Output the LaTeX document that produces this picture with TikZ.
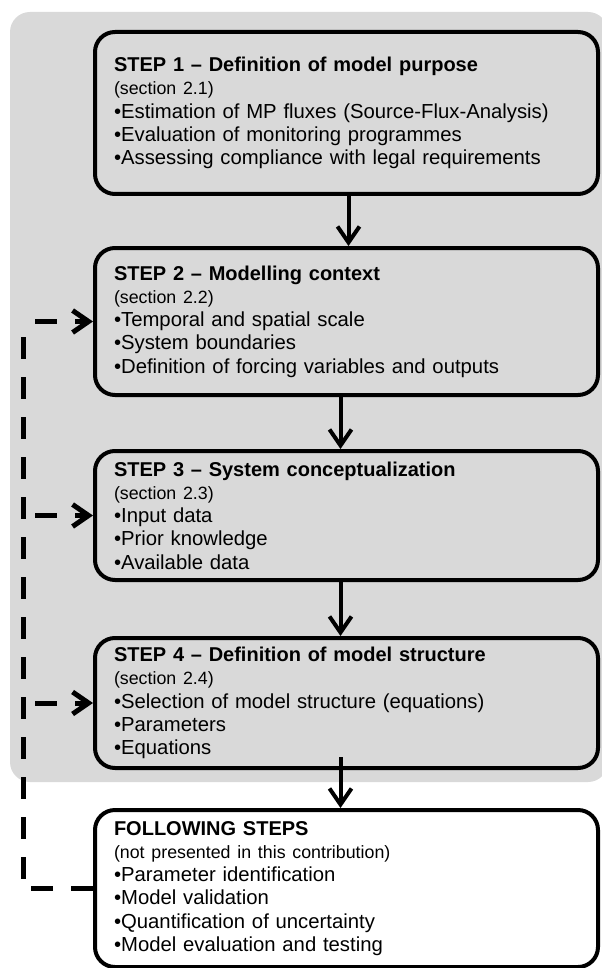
\documentclass[tikz,border=0pt]{standalone}
\usepackage{fontspec}
\setmainfont{Liberation Sans}
\usetikzlibrary{arrows.meta}

\definecolor{panelgray}{gray}{0.85}
\newcommand{\stepsec}[1]{{\fontsize{8.9}{11.6}\selectfont #1}}
\newcommand{\steptitle}[1]{{\fontsize{10}{11.6}\selectfont\bfseries #1}}

\begin{document}
\begin{tikzpicture}[x=0.5pt, y=-0.5pt,
    stepbox/.style={draw, line width=2pt, rounded corners=10pt, fill=panelgray,
        minimum width=251.5pt, text width=232.5pt, inner xsep=9.5pt, inner ysep=0pt,
        align=left, font=\fontsize{10.15}{11.6}\selectfont},
    flow/.style={line width=2pt, -{Straight Barb[length=8pt, width=11pt]}},
    feedback/.style={line width=2.5pt, dash pattern=on 11pt off 9pt},
    fbarrow/.style={feedback, -{Straight Barb[length=8pt, width=11pt]}}]

    % Canvas in pixel units (y runs downwards)
    \useasboundingbox (0,0) rectangle (601,968);

    % --- 1. Shaded panel behind steps 1-4 ---
    \fill[panelgray, rounded corners=10pt] (10,12) rectangle (608,782);

    % --- 2. The step boxes ---
    \node[stepbox, minimum height=81pt] (s1) at (346.5,113) {%
        \steptitle{STEP 1 – Definition of model purpose}\\
        \stepsec{(section 2.1)}\\
        •Estimation of MP fluxes (Source-Flux-Analysis)\\
        •Evaluation of monitoring programmes\\
        •Assessing compliance with legal requirements};

    \node[stepbox, minimum height=73.5pt] (s2) at (346.5,321.5) {%
        \steptitle{STEP 2 – Modelling context}\\
        \stepsec{(section 2.2)}\\
        •Temporal and spatial scale\\
        •System boundaries\\
        •Definition of forcing variables and outputs};

    \node[stepbox, minimum height=64.5pt] (s3) at (346.5,515.5) {%
        \steptitle{STEP 3 – System conceptualization}\\
        \stepsec{(section 2.3)}\\
        •Input data\\
        •Prior knowledge\\
        •Available data};

    \node[stepbox, minimum height=65pt] (s4) at (346.5,703) {%
        \steptitle{STEP 4 – Definition of model structure}\\
        \stepsec{(section 2.4)}\\
        •Selection of model structure (equations)\\
        •Parameters\\
        •Equations};

    \node[stepbox, fill=white, minimum height=78.5pt] (s5) at (346.5,888.5) {%
        \steptitle{FOLLOWING STEPS}\\
        \stepsec{(not presented in this contribution)}\\
        •Parameter identification\\
        •Model validation\\
        •Quantification of uncertainty\\
        •Model evaluation and testing};

    % --- 3. Main sequence ---
    \draw[flow] ([xshift=1pt]s1.south) -- ([xshift=1pt]s2.north);
    \draw[flow] ([xshift=-3pt]s2.south) -- ([xshift=-3pt]s3.north);
    \draw[flow] ([xshift=-3pt]s3.south) -- ([xshift=-3pt]s4.north);
    \draw[flow] ([xshift=-3pt, yshift=6.5pt]s4.south) -- ([xshift=-3pt]s5.north);

    % --- 4. Feedback loop from the following steps ---
    \coordinate (looptop) at (23,327);
    \draw[feedback] (s5.west) -| (looptop);

    \draw[fbarrow] ([xshift=-29pt]s2.west) -- (s2.west);
    \draw[fbarrow] ([xshift=-29pt]s3.west) -- (s3.west);
    \draw[fbarrow] ([xshift=-29pt]s4.west) -- (s4.west);

\end{tikzpicture}
\end{document}
